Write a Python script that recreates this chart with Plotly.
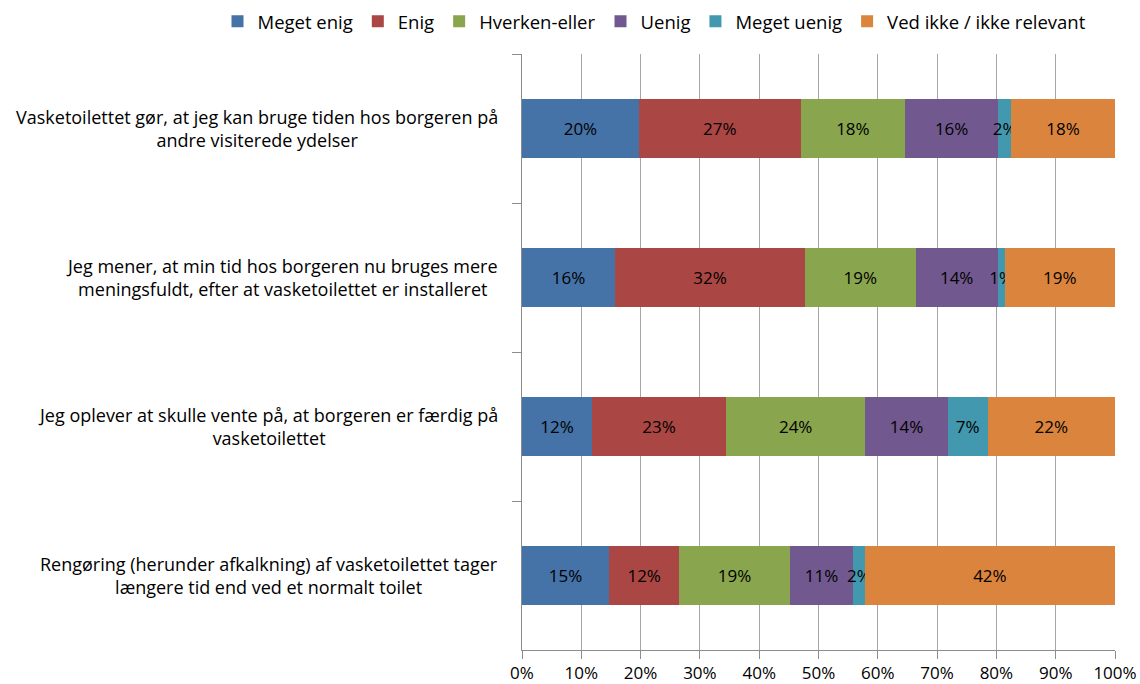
import plotly.graph_objects as go

# Survey statements (top to bottom)
statements = [
    "Vasketoilettet gør, at jeg kan bruge tiden hos borgeren på<br>andre visiterede ydelser",
    "Jeg mener, at min tid hos borgeren nu bruges mere<br>meningsfuldt, efter at vasketoilettet er installeret",
    "Jeg oplever at skulle vente på, at borgeren er færdig på<br>vasketoilettet",
    "Rengøring (herunder afkalkning) af vasketoilettet tager<br>længere tid end ved et normalt toilet",
]
keys = ["s1", "s2", "s3", "s4"]

# Share of answers (%) per response category
meget_enig = [19.7, 15.7, 11.8, 14.7]
enig = [27.3, 32.0, 22.6, 11.8]
hverken_eller = [17.6, 18.7, 23.5, 18.7]
uenig = [15.7, 13.8, 13.9, 10.6]
meget_uenig = [2.2, 1.2, 6.7, 2.0]
ved_ikke = [17.5, 18.6, 21.5, 42.2]

series = [
    ("Meget enig", meget_enig, "#4572A7"),
    ("Enig", enig, "#AA4643"),
    ("Hverken-eller", hverken_eller, "#89A54E"),
    ("Uenig", uenig, "#71588F"),
    ("Meget uenig", meget_uenig, "#4198AF"),
    ("Ved ikke / ikke relevant", ved_ikke, "#DB843D"),
]

FONT = "Open Sans, sans-serif"

fig = go.Figure()
for name, vals, color in series:
    fig.add_trace(go.Bar(
        y=keys, x=vals, name=name, orientation="h",
        marker=dict(color=color, line=dict(width=0)),
        text=[f"{v:.0f}%" for v in vals],
        textposition="inside", insidetextanchor="middle",
        textangle=0, constraintext="none",
        textfont=dict(family=FONT, size=17, color="#000000"),
        hoverinfo="skip",
    ))

# Statement labels, right-aligned block with centred lines
for k, s in zip(keys, statements):
    fig.add_annotation(
        x=0, xref="paper", xshift=-22, xanchor="right",
        y=k, yref="y", yanchor="middle",
        text=s, align="center", showarrow=False,
        font=dict(family=FONT, size=18, color="#000000"),
    )

fig.update_layout(
    barmode="stack", bargap=0.6,
    width=1140, height=684,
    margin=dict(l=522, r=25, t=54, b=34, autoexpand=False),
    paper_bgcolor="white", plot_bgcolor="white",
    font=dict(family=FONT, size=17, color="#000000"),
    legend=dict(
        orientation="h", x=-0.5135, xanchor="left", y=1.054, yanchor="middle",
        font=dict(family=FONT, size=18.5), traceorder="normal",
    ),
    xaxis=dict(
        range=[0, 100], dtick=10, ticksuffix="%",
        showgrid=True, gridcolor="#a6a6a6", gridwidth=1,
        showline=True, linecolor="#8c8c8c", linewidth=1,
        ticks="outside", ticklen=8, tickcolor="#8c8c8c",
        tickfont=dict(family=FONT, size=17), zeroline=False,
    ),
    yaxis=dict(
        autorange="reversed", categoryorder="array", categoryarray=keys,
        showticklabels=False, showline=True, linecolor="#8c8c8c",
        ticks="outside", tickson="boundaries", ticklen=9, tickcolor="#8c8c8c",
        showgrid=False, zeroline=False,
    ),
)

fig.write_html("out.html")
